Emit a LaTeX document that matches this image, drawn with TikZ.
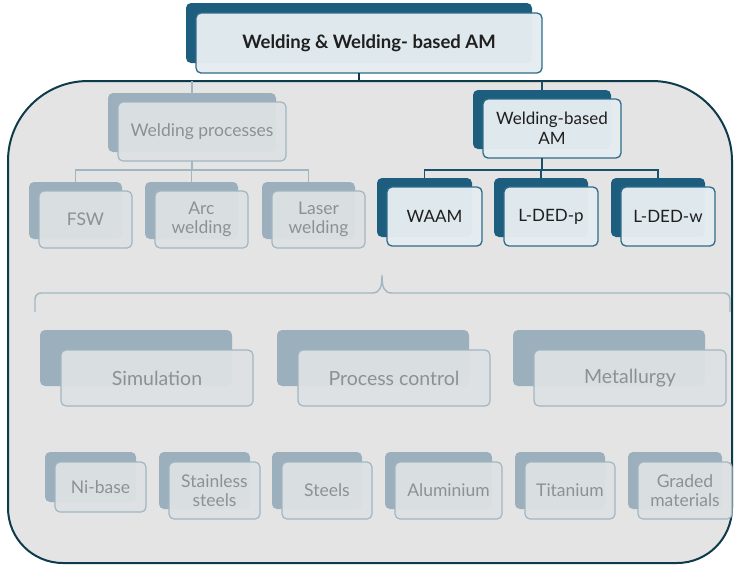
\documentclass[tikz,border=0pt]{standalone}
\usepackage{fontspec}
\setmainfont{Lato}
\usetikzlibrary{positioning}
\definecolor{dkteal}{HTML}{1D5E7F}
\definecolor{dkedge}{HTML}{2F6C8A}
\definecolor{ltfront}{HTML}{E6EDF1}
\definecolor{grback}{HTML}{9BB0BC}
\definecolor{grfront}{HTML}{DDE1E3}
\definecolor{gredge}{HTML}{A2B6C2}
\definecolor{grtext}{HTML}{8B9195}
\definecolor{boxbg}{HTML}{E4E4E4}
\definecolor{boxedge}{HTML}{0E3B4C}

\tikzset{
  darkback/.style={rectangle, rounded corners=5pt, fill=dkteal, inner sep=0pt, outer sep=0pt},
  darkfront/.style={rectangle, rounded corners=5pt, fill=ltfront, fill opacity=0.97, text opacity=1,
    draw=dkedge, line width=1.3pt, inner sep=0pt, outer sep=0pt, align=center,
    text=black!88, font=\fontsize{17}{20}\selectfont},
  paleback/.style={rectangle, rounded corners=5pt, fill=grback, inner sep=0pt, outer sep=0pt},
  palefront/.style={rectangle, rounded corners=5pt, fill=grfront, fill opacity=0.94, text opacity=1,
    draw=gredge, line width=1.2pt, inner sep=0pt, outer sep=0pt, align=center,
    text=grtext, font=\fontsize{17.5}{19}\selectfont},
  darkline/.style={draw=dkteal!85!black, line width=1.4pt},
  paleline/.style={draw=gredge, line width=1.4pt},
  container/.style={fill=boxbg, draw=boxedge, line width=2pt},
}

% back card, front card shifted down/right
\newcommand{\wcard}[8]{%
  \node[#2back, minimum width=#5pt, minimum height=#6pt, anchor=north west] (#1B) at (#3,#4) {};
  \node[#2front, minimum width=#5pt, minimum height=#6pt, below right=#7 of #1B.north west] (#1) {#8};
}

\begin{document}
\begin{tikzpicture}[x=1pt, y=-1pt]
\fill[white] (0,0) rectangle (735,566);
\useasboundingbox (0,0) rectangle (735,566);

% outer frame
\draw[container] (8,320) {[rounded corners=80pt] -- (8,81) -- (732,81) -- (732,320)}
  {[rounded corners=55pt] -- (732,563) -- (8,563) -- (8,320)} -- cycle;

% -------
\wcard{title}{dark}{186}{3}{346}{60}{10pt and 10pt}{\fontsize{18.5}{20}\bfseries Welding \& Welding- based AM}

\wcard{wp}{pale}{108}{93}{168}{59}{9pt and 10pt}{Welding processes}
\wcard{fsw}{pale}{29}{182}{93}{57}{9pt and 10pt}{FSW}
\wcard{arc}{pale}{145}{182}{93}{57}{9pt and 10pt}{Arc\\welding}
\wcard{laser}{pale}{262}{182}{93}{57}{9pt and 10pt}{Laser\\welding}

\wcard{wbam}{dark}{473}{90}{138}{59}{9pt and 10pt}{Welding-based\\AM}
\wcard{waam}{dark}{377}{178}{95}{59}{9pt and 10pt}{WAAM}
\wcard{ldedp}{dark}{494}{178}{94}{59}{9pt and 10pt}{L-DED-p}
\wcard{ldedw}{dark}{611}{178}{94}{59}{9pt and 10pt}{L-DED-w}

% connectors
\path (titleB.south) ++(0,18) coordinate (tbus);
\path (wpB.south) ++(0,18) coordinate (wpbus);
\path (wbamB.south) ++(0,21) coordinate (ambus);

\draw[darkline, draw=boxedge] (titleB.south |- title.south) -- (tbus);
\draw[paleline] (wpB.north |- tbus) -- (wpB.north);
\draw[darkline] (wbamB.north |- tbus) -- (wbamB.north);

\draw[paleline] (wpB.south |- wp.south) -- (wpbus) -| (fswB.north);
\draw[paleline] (wpbus) -| (laserB.north);
\draw[paleline] (wpbus) -| (arcB.north);

\draw[darkline] (wbamB.south |- wbam.south) -- (ambus) -| (waamB.north);
\draw[darkline] (ambus) -| (ldedwB.north);
\draw[darkline] (ambus) -| (ldedpB.north);

% -------
\wcard{sim}{pale}{40}{330}{192}{56}{20pt and 21pt}{\fontsize{19.5}{20}\selectfont Simulation}
\wcard{proc}{pale}{277}{330}{192}{56}{20pt and 21pt}{\fontsize{19.5}{20}\selectfont Process control}
\wcard{met}{pale}{513}{330}{192}{56}{20pt and 21pt}{\fontsize{19.5}{20}\selectfont Metallurgy}

\wcard{nib}{pale}{45}{452}{91}{50}{10pt and 10pt}{Ni-base}
\wcard{stain}{pale}{159}{452}{91}{57}{10pt and 10pt}{Stainless\\steels}
\wcard{steel}{pale}{272}{452}{90}{57}{10pt and 10pt}{Steels}
\wcard{alu}{pale}{385}{452}{107}{57}{10pt and 10pt}{Aluminium}
\wcard{tit}{pale}{515}{452}{90}{57}{10pt and 10pt}{Titanium}
\wcard{grad}{pale}{628}{452}{94}{57}{10pt and 10pt}{Graded\\materials}

% brace over the topics
\draw[paleline] (35,312) -- (35,299) to[out=90,in=180] (41,293) -- (372,293)
  .. controls (380,293) and (382,287) .. (382,275)
  .. controls (382,287) and (384,293) .. (392,293) -- (724,293) to[out=0,in=90] (730,299) -- (730,312);

\end{tikzpicture}
\end{document}
